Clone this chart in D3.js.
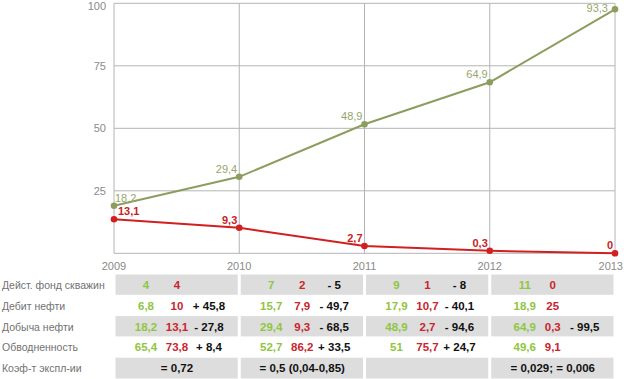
<!DOCTYPE html>
<html>
<head>
<meta charset="utf-8">
<script src="https://cdn.jsdelivr.net/npm/d3@7"></script>
<style>
  body { margin: 0; background: #fff; }
  svg { display: block; font-family: "Liberation Sans", Arial, sans-serif; }
</style>
</head>
<body>
<div class="c_chart"></div>
<script>
/* DATA */
const years = [2009, 2010, 2011, 2012, 2013];
const yTicks = [25, 50, 75, 100];

// plotted positions and printed labels
const greenValues = [19.0, 30.6, 51.6, 68.4, 97.6];
const greenLabels = ["18,2", "29,4", "48,9", "64,9", "93,3"];
const redValues = [13.6, 10.2, 2.9, 1.0, 0];
const redLabels = ["13,1", "9,3", "2,7", "0,3", "0"];

const rowNames = ["Дейст. фонд скважин", "Дебит нефти", "Добыча нефти", "Обводненность", "Коэф-т экспл-ии"];
// one entry per period column (2009-10, 2010-11, 2011-12, 2012-13)
const wellsRow = [["4", "4", ""], ["7", "2", "- 5"], ["9", "1", "- 8"], ["11", "0", ""]];
const debitRow = [["6,8", "10", "+ 45,8"], ["15,7", "7,9", "- 49,7"], ["17,9", "10,7", "- 40,1"], ["18,9", "25", ""]];
const outputRow = [["18,2", "13,1", "- 27,8"], ["29,4", "9,3", "- 68,5"], ["48,9", "2,7", "- 94,6"], ["64,9", "0,3", "- 99,5"]];
const waterRow = [["65,4", "73,8", "+ 8,4"], ["52,7", "86,2", "+ 33,5"], ["51", "75,7", "+ 24,7"], ["49,6", "9,1", ""]];
const coefRow = ["= 0,72", "= 0,5 (0,04-0,85)", "", "= 0,029; = 0,006"];

/* DIMENSIONS */
const width = 624, height = 379;
const plot = {left: 114, right: 615, top: 3.3, bottom: 253.3};

const svg = d3.select(".c_chart").append("svg")
  .attr("width", width)
  .attr("height", height);

const x = d3.scalePoint().domain(years).range([plot.left, plot.right]);
const y = d3.scaleLinear().domain([0, 100]).range([plot.bottom, plot.top]);

/* GRID */
const grid = svg.append("g").attr("stroke", "#b4b4b4").attr("stroke-width", 1);
grid.selectAll(".h").data([0].concat(yTicks)).enter().append("line")
  .attr("x1", plot.left).attr("x2", plot.right)
  .attr("y1", d => y(d)).attr("y2", d => y(d));
grid.selectAll(".v").data(years).enter().append("line")
  .attr("x1", d => x(d)).attr("x2", d => x(d))
  .attr("y1", plot.top).attr("y2", plot.bottom);

/* AXIS LABELS */
svg.append("g").selectAll("text").data(yTicks).enter().append("text")
  .attr("x", 106).attr("y", d => Math.max(y(d), 6))
  .attr("text-anchor", "end").attr("dominant-baseline", "central")
  .attr("font-size", 11).attr("fill", "#8a8a8a")
  .text(d => d);

svg.append("g").selectAll("text").data(years).enter().append("text")
  .attr("x", (d, i) => i === years.length - 1 ? width - 1 : x(d)).attr("y", 266)
  .attr("text-anchor", (d, i) => i === years.length - 1 ? "end" : "middle")
  .attr("dominant-baseline", "central")
  .attr("font-size", 11).attr("fill", "#8a8a8a")
  .text(d => d);

/* LINES */
function drawSeries(values, labels, color, labelColor, bold) {
  const pts = values.map((v, i) => [x(years[i]), y(v)]);
  svg.append("path")
    .attr("d", d3.line()(pts))
    .attr("fill", "none").attr("stroke", color).attr("stroke-width", 2);
  svg.append("g").selectAll("circle").data(pts).enter().append("circle")
    .attr("cx", d => d[0]).attr("cy", d => d[1]).attr("r", 3.3)
    .attr("fill", color);
  svg.append("g").selectAll("text").data(pts).enter().append("text")
    .attr("x", (d, i) => i === 0 ? d[0] + (bold ? 4 : 1) : d[0] - (i === pts.length - 1 && d[1] < 16 ? 7 : 2))
    .attr("y", d => Math.max(d[1] - 8, 8))
    .attr("text-anchor", (d, i) => i === 0 ? "start" : "end")
    .attr("dominant-baseline", "central")
    .attr("font-size", 11).attr("font-weight", bold ? "bold" : "normal")
    .attr("fill", labelColor)
    .text((d, i) => labels[i]);
}
drawSeries(greenValues, greenLabels, "#8c9d5e", "#97a56c", false);
drawSeries(redValues, redLabels, "#d21f1f", "#c81e1e", true);

/* TABLE */
const rowTop = 274.5, rowH = 20.8;
const cols = years.slice(0, -1);
const colW = x(years[1]) - x(years[0]);

// banded rows
[0, 2, 4].forEach(r => {
  svg.append("g").selectAll("rect").data(cols).enter().append("rect")
    .attr("x", d => x(d) + 1.5)
    .attr("y", rowTop + r * rowH)
    .attr("width", colW - 3)
    .attr("height", rowH - (r === 4 ? 0 : 0.5))
    .attr("fill", "#dddddd");
});

svg.append("g").selectAll("text").data(rowNames).enter().append("text")
  .attr("x", 2).attr("y", (d, i) => rowTop + i * rowH + rowH / 2)
  .attr("dominant-baseline", "central")
  .attr("font-size", 10.5).attr("fill", "#727272")
  .text(d => d);

const tripleRows = [wellsRow, debitRow, outputRow, waterRow];
const cellColors = ["#8fc641", "#c9252c", "#111111"];
const cellOffsets = [32, 63, 95];

tripleRows.forEach((row, r) => {
  const yc = rowTop + r * rowH + rowH / 2;
  row.forEach((cell, c) => {
    cell.forEach((txt, k) => {
      svg.append("text")
        .attr("x", x(cols[c]) + cellOffsets[k] + (c === 3 && k === 0 ? 3 : 0))
        .attr("y", yc)
        .attr("text-anchor", "middle").attr("dominant-baseline", "central")
        .attr("font-size", 11.5).attr("font-weight", "bold")
        .attr("fill", cellColors[k])
        .text(txt);
    });
  });
});

svg.append("g").selectAll("text").data(coefRow).enter().append("text")
  .attr("x", (d, i) => x(cols[i]) + 63)
  .attr("y", rowTop + 4 * rowH + rowH / 2)
  .attr("text-anchor", "middle").attr("dominant-baseline", "central")
  .attr("font-size", 11.5).attr("font-weight", "bold").attr("fill", "#111")
  .text(d => d);
</script>
</body>
</html>
